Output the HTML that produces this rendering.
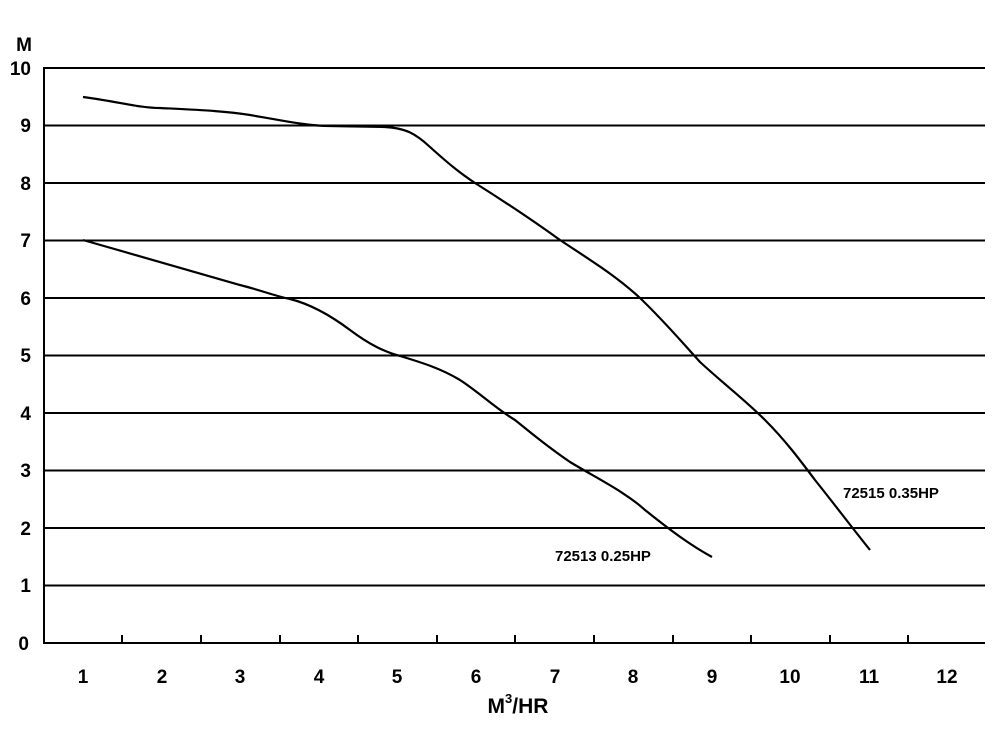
<!DOCTYPE html>
<html><head><style>body{margin:0;background:#fff}svg{display:block}</style></head><body>
<svg width="1000" height="750" xmlns="http://www.w3.org/2000/svg" font-family="Liberation Sans, Arial, sans-serif" font-weight="bold">
<g stroke="#000" stroke-width="2">
<line x1="44" y1="68" x2="985" y2="68"/>
<line x1="44" y1="125.5" x2="985" y2="125.5"/>
<line x1="44" y1="183" x2="985" y2="183"/>
<line x1="44" y1="240.5" x2="985" y2="240.5"/>
<line x1="44" y1="298" x2="985" y2="298"/>
<line x1="44" y1="355.5" x2="985" y2="355.5"/>
<line x1="44" y1="413" x2="985" y2="413"/>
<line x1="44" y1="470.5" x2="985" y2="470.5"/>
<line x1="44" y1="528" x2="985" y2="528"/>
<line x1="44" y1="585.5" x2="985" y2="585.5"/>
<line x1="44" y1="643" x2="985" y2="643"/>
<line x1="44" y1="67" x2="44" y2="644"/>
<line x1="122" y1="635" x2="122" y2="643"/><line x1="201" y1="635" x2="201" y2="643"/>
<line x1="280" y1="635" x2="280" y2="643"/><line x1="358" y1="635" x2="358" y2="643"/>
<line x1="437" y1="635" x2="437" y2="643"/><line x1="515" y1="635" x2="515" y2="643"/>
<line x1="594" y1="635" x2="594" y2="643"/><line x1="673" y1="635" x2="673" y2="643"/>
<line x1="751" y1="635" x2="751" y2="643"/><line x1="830" y1="635" x2="830" y2="643"/>
<line x1="908" y1="635" x2="908" y2="643"/>
</g>
<g fill="none" stroke="#000" stroke-width="2.2">
<path d="M83,97 C120,102 140,108 160,108 C200,110 225,111 250,115 C290,122 310,126 330,126 L385,127 C405,128 415,133 430,147 C450,165 460,173 475,183 C510,205 535,222 560,240 C590,260 615,275 640,298 C665,322 680,340 700,362 C725,385 745,400 765,420 C785,440 800,460 815,480 C835,505 850,525 870,550"/>
<path d="M83,240 C130,253 180,268 240,285 C260,290 275,296 290,299 C310,304 330,315 350,330 C370,345 385,352 400,356 C420,362 440,368 460,380 C480,393 495,408 515,420 C530,432 545,445 570,462 C600,480 625,492 645,510 C670,530 690,545 712,557"/>
</g>
<g font-size="19" text-anchor="end">
<text x="32" y="51">M</text>
<text x="31" y="75">10</text><text x="31" y="132">9</text><text x="31" y="190">8</text>
<text x="31" y="247">7</text><text x="31" y="305">6</text><text x="31" y="362">5</text>
<text x="31" y="420">4</text><text x="31" y="477">3</text><text x="31" y="535">2</text>
<text x="31" y="592">1</text><text x="29" y="650">0</text>
</g>
<g font-size="19" text-anchor="middle">
<text x="83" y="683">1</text><text x="162" y="683">2</text><text x="240" y="683">3</text>
<text x="319" y="683">4</text><text x="397" y="683">5</text><text x="476" y="683">6</text>
<text x="555" y="683">7</text><text x="633" y="683">8</text><text x="712" y="683">9</text>
<text x="790" y="683">10</text><text x="869" y="683">11</text><text x="947" y="683">12</text>
<text x="518" y="713" font-size="21">M<tspan font-size="13" dy="-10">3</tspan><tspan dy="10">/HR</tspan></text>
</g>
<text x="843" y="498" font-size="15">72515 0.35HP</text>
<text x="555" y="561" font-size="15">72513 0.25HP</text>
</svg>
</body></html>
